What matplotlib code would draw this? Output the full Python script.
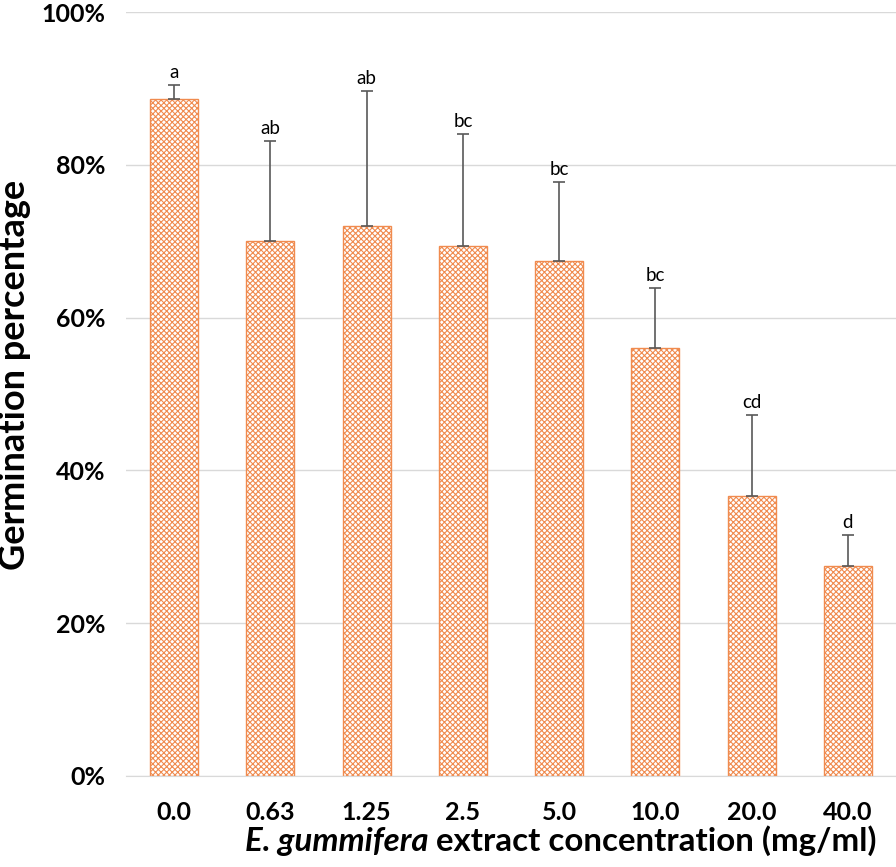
import matplotlib.pyplot as plt
from matplotlib.ticker import FuncFormatter

plt.rcParams['font.family'] = ['Lato', 'DejaVu Sans']
plt.rcParams['hatch.linewidth'] = 0.8
plt.rcParams['hatch.color'] = '#F29A66'

# data
concentrations = ["0.0", "0.63", "1.25", "2.5", "5.0", "10.0", "20.0", "40.0"]
germination = [88.6, 70.0, 72.0, 69.4, 67.4, 56.0, 36.6, 27.5]
err_upper = [1.8, 13.1, 17.7, 14.6, 10.3, 7.9, 10.7, 4.0]
letters = ["a", "ab", "ab", "bc", "bc", "bc", "cd", "d"]

orange = "#F08B4F"

fig = plt.figure(figsize=(8.96, 8.67), dpi=100)
ax = fig.add_axes([0.1406, 0.105, 0.8594, 0.881])

x = range(len(concentrations))
bars = ax.bar(x, germination, width=0.5, color="white", edgecolor=orange,
              hatch="xxxxxx", linewidth=1.0, zorder=2)
ax.errorbar(x, germination, yerr=[[0] * len(err_upper), err_upper],
            fmt="none", ecolor="#595959", elinewidth=1.2, capsize=4,
            capthick=1.2, zorder=3)

# significance letters above the error bars
for xi, v, e, lab in zip(x, germination, err_upper, letters):
    ax.annotate(lab, (xi, v + e), xytext=(0, 3), textcoords="offset points",
                ha="center", va="bottom", fontsize=13.5)

ax.set_xlim(-0.5, len(concentrations) - 0.5)
ax.set_ylim(0, 100)
ax.set_yticks([0, 20, 40, 60, 80, 100])
ax.yaxis.set_major_formatter(FuncFormatter(lambda v, p: f"{v:.0f}%"))
ax.set_xticks(list(x))
ax.set_xticklabels(concentrations)
ax.tick_params(axis="both", length=0, labelsize=18)
ax.tick_params(axis="y", pad=15)
ax.tick_params(axis="x", pad=18)
for lab in ax.get_xticklabels() + ax.get_yticklabels():
    lab.set_fontweight("bold")

ax.grid(axis="y", color="#d9d9d9", linewidth=1.0, zorder=0)
for s in ["top", "right", "left"]:
    ax.spines[s].set_visible(False)
ax.spines["bottom"].set_color("#d9d9d9")

fig.text(0.0165, 0.568, "Germination percentage", rotation=90, ha="center",
         va="center", fontsize=26, fontweight="bold")

# x label: italic species name followed by upright text
t1 = fig.text(0.273, 0.018, "E. gummifera", fontsize=23.8, fontweight="bold",
              style="italic", ha="left", va="baseline")
fig.canvas.draw()
ax.annotate(" extract concentration (mg/ml)", xy=(1, 0), xycoords=t1,
            ha="left", va="bottom", fontsize=23.8, fontweight="bold",
            annotation_clip=False)

fig.savefig("out.png", dpi=100)
